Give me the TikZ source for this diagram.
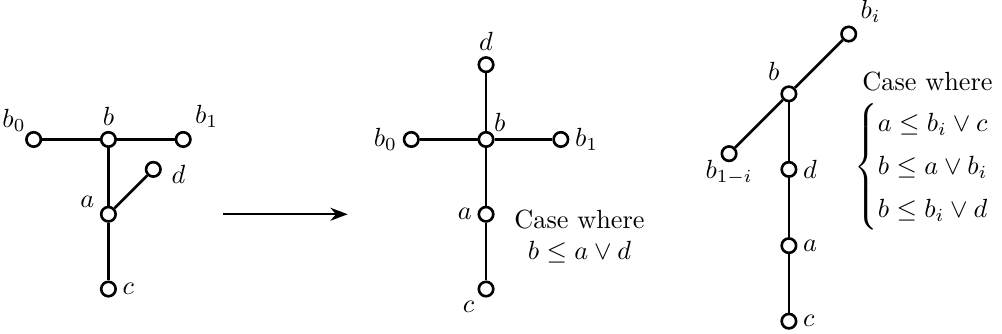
\documentclass[tikz,border=0pt]{standalone}
\usepackage{amsmath}
\usetikzlibrary{arrows.meta, positioning}

\begin{document}
\begin{tikzpicture}[
      vtx/.style={circle, draw, line width=1pt, fill=white, inner sep=0pt, minimum size=5.5pt},
      edge/.style={line width=1pt},
      every label/.style={inner sep=2pt}
   ]
            \useasboundingbox (0,0) rectangle (13.4,4.465);
            % Left tree
            \node[vtx, label={[label distance=-2pt]above left:$b_0$}] (lb0) at (0.45,2.6) {};
            \node[vtx, label={above:$b$}] (lb) at (1.45,2.6) {};
            \node[vtx, label={above right:$b_1$}] (lb1) at (2.45,2.6) {};
            \node[vtx, label={[label distance=1.5pt, yshift=-2pt]right:$d$}] (ld) at (2.05,2.2) {};
            \node[vtx, label={172:$a$}] (la) at (1.45,1.6) {};
            \node[vtx, label={right:$c$}] (lc) at (1.45,0.6) {};
            \draw[edge] (lb0) -- (lb) -- (lb1);
            \draw[edge] (lb) -- (la) -- (lc);
            \draw[edge] (la) -- (ld);
            % Arrow between the two trees
            \coordinate (arrS) at (2.98,1.6);
            \coordinate (arrE) at (4.65,1.6);
            \draw[thick, -{Stealth}] (arrS) -- (arrE);
            % Middle tree
            \node[vtx, label={above:$d$}] (md) at (6.5,3.6) {};
            \node[vtx, label={left:$b_0$}] (mb0) at (5.5,2.6) {};
            \node[vtx, label={[label distance=-2pt]above right:$b$}] (mb) at (6.5,2.6) {};
            \node[vtx, label={right:$b_1$}] (mb1) at (7.5,2.6) {};
            \node[vtx, label={left:$a$}] (ma) at (6.5,1.6) {};
            \node[vtx, label={below left:$c$}] (mc) at (6.5,0.6) {};
            \draw[edge] (md) -- (mb) -- (ma) -- (mc);
            \draw[edge] (mb0) -- (mb) -- (mb1);
            \node[align=center] (mcase) at (7.75,1.3) {Case where\\$b\leq a\vee d$};
            % Right tree
            \node[vtx, label={above right:$b_i$}] (rbi) at (11.35,4.01) {};
            \node[vtx, label={115:$b$}] (rb) at (10.55,3.21) {};
            \node[vtx, label={[label distance=-3pt]below:$b_{1-i}$}] (rbo) at (9.75,2.41) {};
            \node[vtx, label={right:$d$}] (rd) at (10.55,2.2) {};
            \node[vtx, label={right:$a$}] (ra) at (10.55,1.18) {};
            \node[vtx, label={right:$c$}] (rc) at (10.55,0.17) {};
            \draw[edge] (rbo) -- (rb) -- (rbi);
            \draw[edge] (rb) -- (rd) -- (ra) -- (rc);
            \node[align=left, anchor=north west] (rcase) at (11.41,3.63)
               {Case where\\[4pt]\hspace*{-3pt}$\begin{cases} a\leq b_i\vee c\\[2pt] b\leq a\vee b_i\\[2pt] b\leq b_i\vee d\end{cases}$};
\end{tikzpicture}
\end{document}
